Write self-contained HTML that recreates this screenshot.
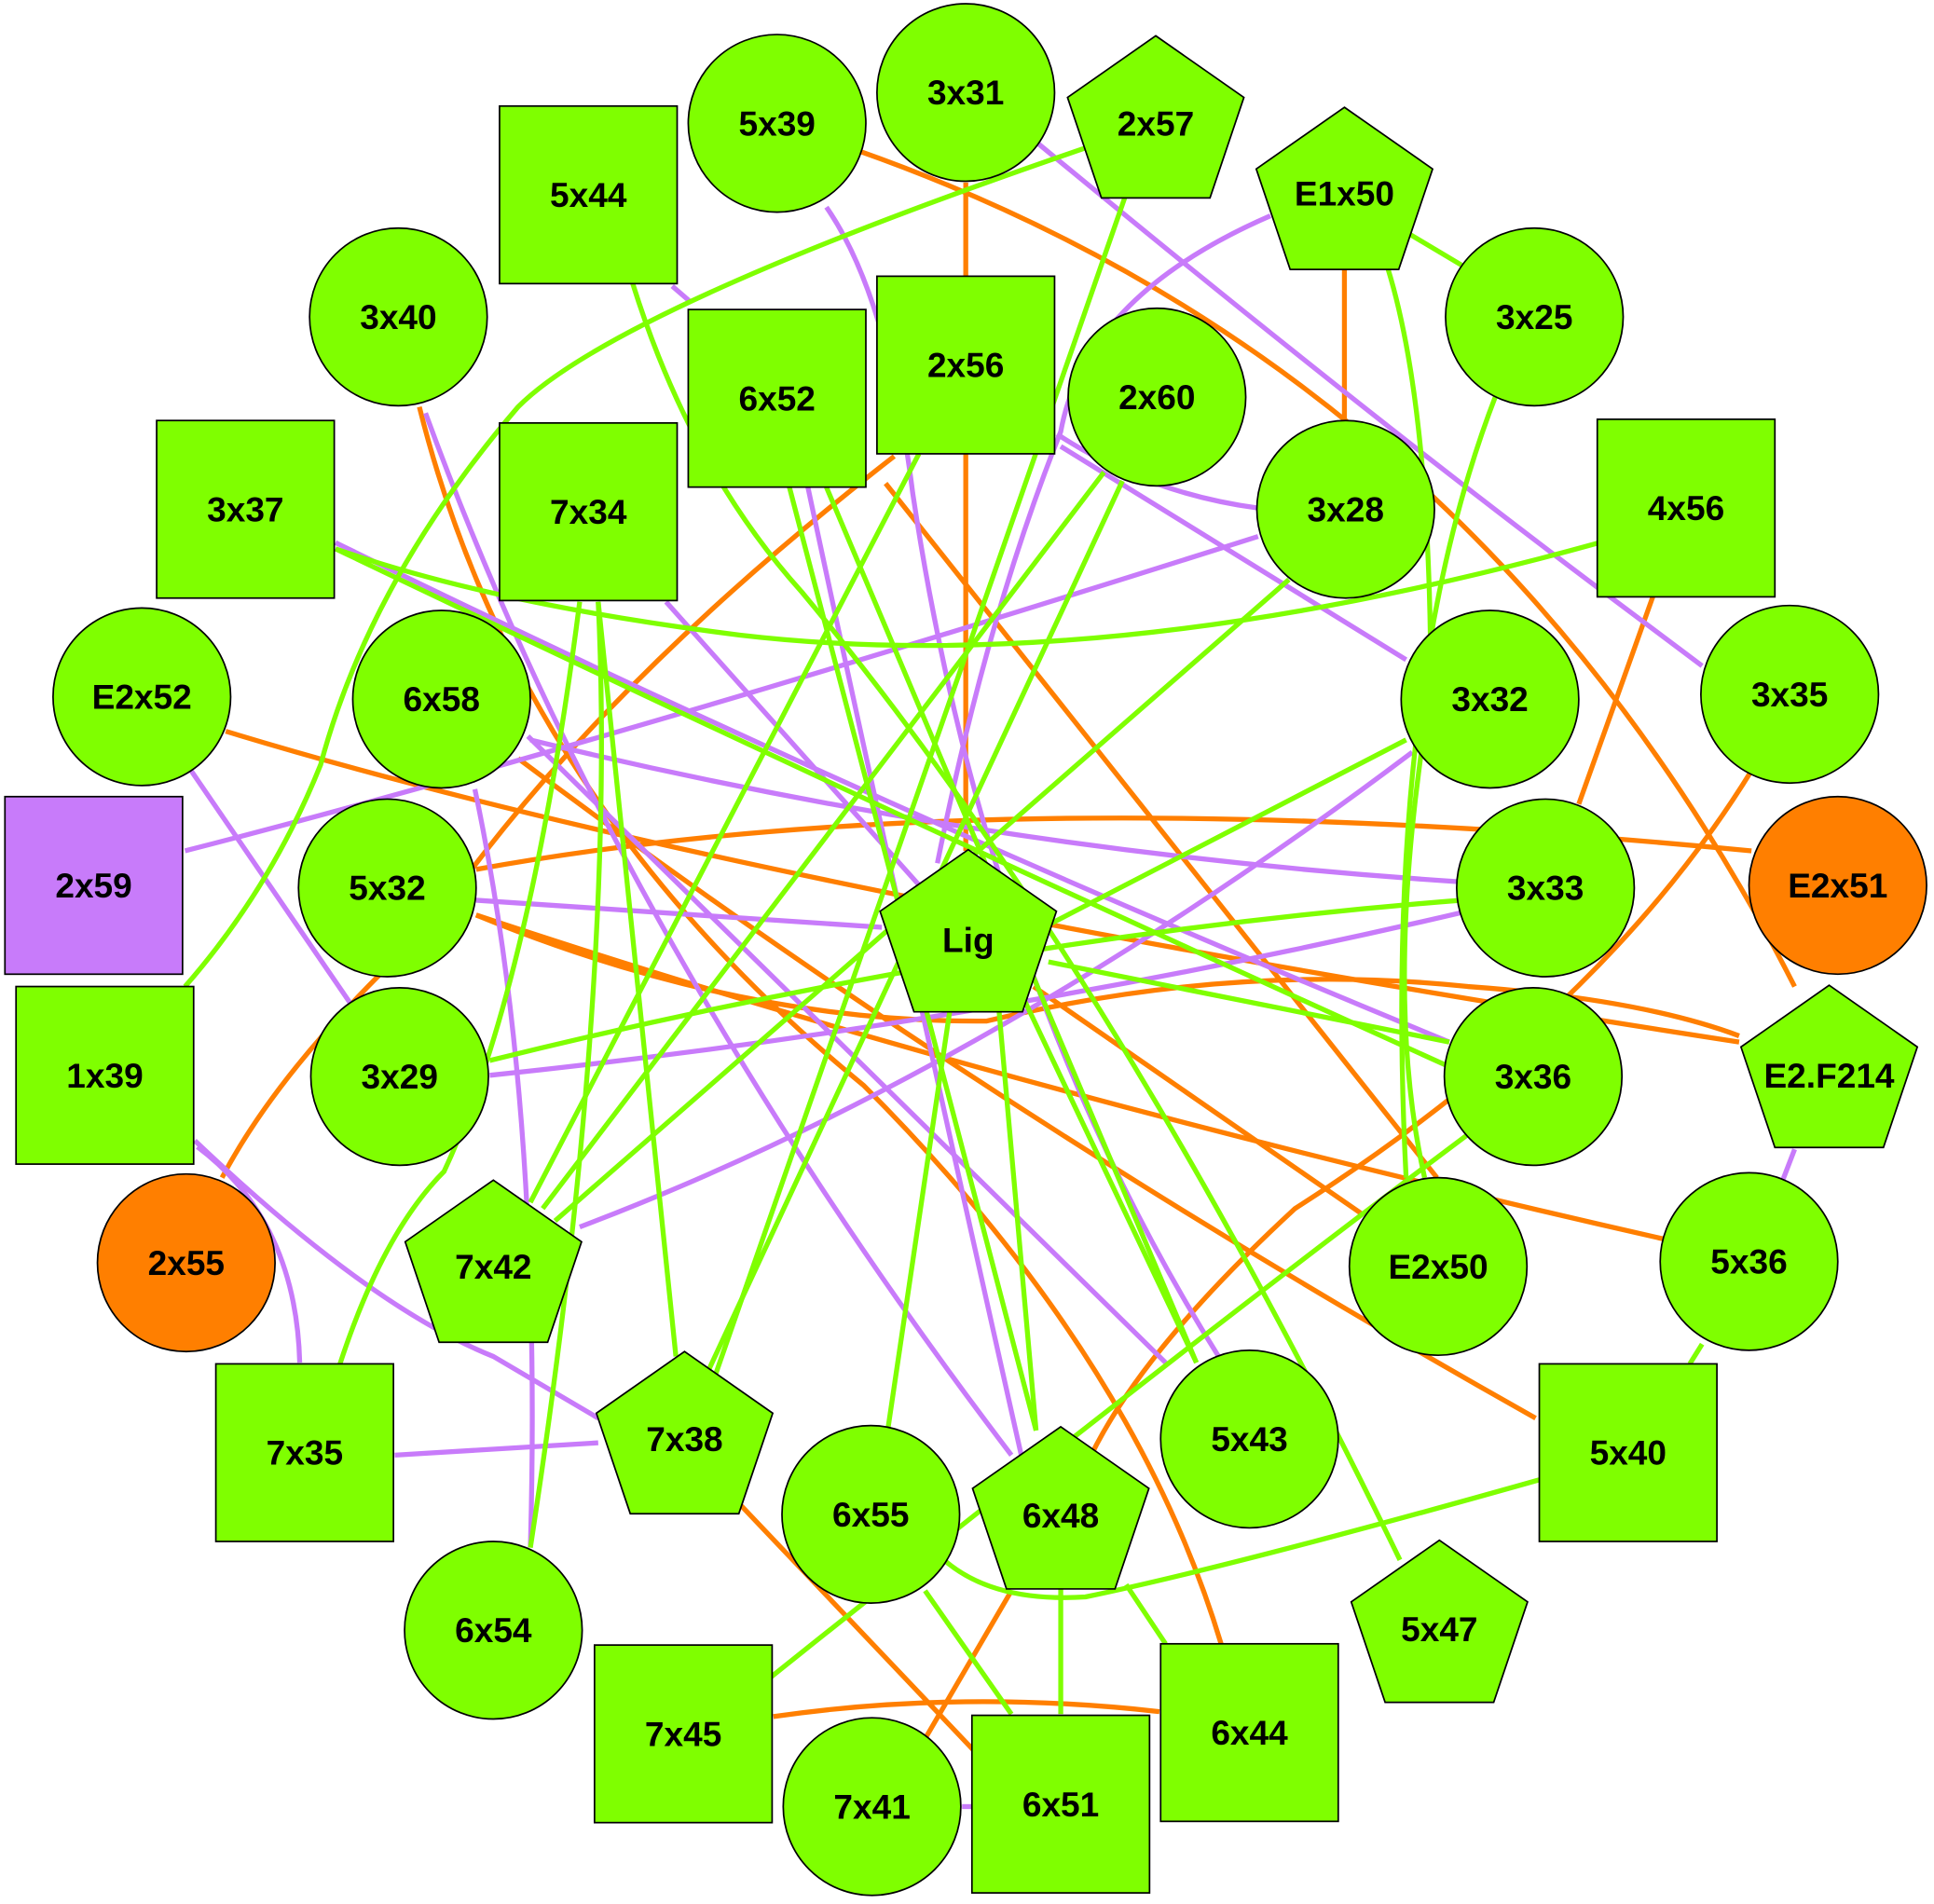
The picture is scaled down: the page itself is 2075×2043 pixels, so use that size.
<!DOCTYPE html>
<html><head><meta charset="utf-8"><style>html,body{margin:0;padding:0;background:#fff}svg{display:block}</style></head>
<body>
<svg width="2075" height="2043" viewBox="0 0 1568 1544" preserveAspectRatio="none" xmlns="http://www.w3.org/2000/svg">
<g fill="none" stroke-width="4">
<g stroke="#ff7f00">
<path d="M783,148 L783,224"/><path d="M783,368 L783,690"/>
<path d="M695,122 Q1200,300 1455,800"/>
<path d="M1090,217 L1090,342"/>
<path d="M340,330 Q420,650 700,880 Q920,1100 990,1333"/>
<path d="M1340,484 L1280,652"/>
<path d="M1420,625 Q1300,820 1050,980 Q920,1100 880,1190"/>
<path d="M183,593 Q600,720 1410,845"/>
<path d="M386,705 Q800,630 1420,690"/>
<path d="M386,742 Q600,830 800,828 Q1000,780 1190,800 Q1330,810 1410,840"/>
<path d="M386,742 Q800,880 1350,1005"/>
<path d="M420,615 Q800,900 1245,1150"/>
<path d="M725,370 Q480,560 350,750 Q230,860 180,955"/>
<path d="M718,392 L1165,955"/>
<path d="M838,800 L1105,985"/>
<path d="M600,1220 L790,1420"/>
<path d="M820,1290 L750,1410"/>
<path d="M627,1392 Q780,1370 940,1388"/>
</g>
<g stroke="#c87bfa">
<path d="M840,115 Q1100,330 1300,480 L1380,540"/>
<path d="M670,168 Q720,240 740,400 Q800,800 988,1100"/>
<path d="M1030,175 Q880,240 860,350 Q800,500 760,700"/>
<path d="M1020,435 Q500,600 150,690"/>
<path d="M857,352 Q930,400 1020,412"/>
<path d="M860,362 L1140,535"/>
<path d="M545,232 L560,245"/>
<path d="M272,440 Q700,650 1175,845"/>
<path d="M540,488 L765,740"/>
<path d="M655,395 Q720,700 828,1180"/>
<path d="M428,597 L945,1105"/>
<path d="M385,640 Q440,900 430,1255"/>
<path d="M155,625 L285,815"/>
<path d="M386,730 L715,752"/>
<path d="M430,600 Q800,690 1183,715"/>
<path d="M397,872 Q800,830 1185,740"/>
<path d="M1145,610 Q800,870 470,995"/>
<path d="M345,335 Q500,760 820,1180"/>
<path d="M158,925 Q300,1060 400,1100 L485,1150"/>
<path d="M160,930 Q240,990 243,1105"/>
<path d="M320,1180 L485,1170"/>
<path d="M780,1465 L790,1465"/>
<path d="M1455,932 L1445,958"/>
</g>
<g stroke="#7fff00">
<path d="M880,120 Q500,250 420,330 Q300,470 260,620 Q220,720 150,800"/>
<path d="M912,160 L580,1115"/>
<path d="M513,230 Q560,380 650,480 Q900,780 1135,1265"/>
<path d="M1143,190 L1185,215"/>
<path d="M1125,217 Q1160,330 1160,560 Q1120,800 1155,955"/>
<path d="M1213,320 Q1120,560 1140,955"/>
<path d="M745,368 L430,975"/>
<path d="M895,383 L440,980"/>
<path d="M910,390 L575,1110"/>
<path d="M1045,470 L450,990"/>
<path d="M1297,440 Q900,550 600,515 Q400,490 272,445"/>
<path d="M1140,600 L850,750"/>
<path d="M1185,730 Q800,760 397,860"/>
<path d="M1190,920 Q950,1100 625,1360"/>
<path d="M640,395 L840,1160"/>
<path d="M670,395 L970,1105"/>
<path d="M485,488 L548,1100"/>
<path d="M485,488 Q500,800 430,1255"/>
<path d="M470,488 Q430,800 360,950 Q310,1000 275,1108"/>
<path d="M272,445 Q700,650 1175,865"/>
<path d="M810,820 L840,1160"/>
<path d="M770,820 L720,1158"/>
<path d="M830,810 L970,1105"/>
<path d="M850,780 L1175,845"/>
<path d="M1248,1200 Q1000,1270 880,1295 Q800,1300 760,1260"/>
<path d="M1380,1090 L1370,1106"/>
<path d="M750,1290 L820,1390"/>
<path d="M860,1288 L860,1390"/>
<path d="M913,1285 L945,1333"/>
</g>
</g>
<g stroke="#000" stroke-width="1.3" fill="#7fff00">
<circle cx="630" cy="100" r="72"/><circle cx="783" cy="75" r="72"/><circle cx="323" cy="257" r="72"/><circle cx="1244" cy="257" r="72"/>
<circle cx="938" cy="322" r="72"/><circle cx="1091" cy="413" r="72"/><circle cx="115" cy="565" r="72"/><circle cx="358" cy="567" r="72"/>
<circle cx="1208" cy="567" r="72"/><circle cx="1451" cy="563" r="72"/><circle cx="1490" cy="718" r="72" fill="#ff7f00"/>
<circle cx="314" cy="720" r="72"/><circle cx="1253" cy="720" r="72"/><circle cx="324" cy="873" r="72"/><circle cx="1243" cy="873" r="72"/>
<circle cx="151" cy="1024" r="72" fill="#ff7f00"/><circle cx="1166" cy="1027" r="72"/><circle cx="1418" cy="1023" r="72"/>
<circle cx="1013" cy="1167" r="72"/><circle cx="706" cy="1228" r="72"/><circle cx="400" cy="1322" r="72"/><circle cx="707" cy="1465" r="72"/>
<rect x="405" y="86" width="144" height="144"/><rect x="558" y="251" width="144" height="144"/><rect x="711" y="224" width="144" height="144"/>
<rect x="127" y="341" width="144" height="144"/><rect x="405" y="343" width="144" height="144"/><rect x="1295" y="340" width="144" height="144"/>
<rect x="4" y="646" width="144" height="144" fill="#c87bfa"/><rect x="13" y="800" width="144" height="144"/>
<rect x="175" y="1106" width="144" height="144"/><rect x="1248" y="1106" width="144" height="144"/><rect x="482" y="1334" width="144" height="144"/>
<rect x="941" y="1333" width="144" height="144"/><rect x="788" y="1391" width="144" height="144"/>
</g>
<g stroke="#000" stroke-width="1.3" fill="#7fff00">
<polygon id="p" points="0,-73 71.5,-23 44,58.5 -44,58.5 -71.5,-23" transform="translate(937,102)"/>
<use href="#p" transform="translate(153,58)"/>
<use href="#p" transform="translate(-152,660)"/>
<use href="#p" transform="translate(546,770)"/>
<use href="#p" transform="translate(-537,928)"/>
<use href="#p" transform="translate(-382,1067)"/>
<use href="#p" transform="translate(-77,1128)"/>
<use href="#p" transform="translate(230,1220)"/>
</g>
<g font-family="Liberation Sans, sans-serif" font-weight="bold" font-size="28" text-anchor="middle" dominant-baseline="central" fill="#000">
<text x="630" y="100">5x39</text><text x="783" y="75">3x31</text><text x="323" y="257">3x40</text><text x="1244" y="257">3x25</text>
<text x="938" y="322">2x60</text><text x="1091" y="413">3x28</text><text x="115" y="565">E2x52</text><text x="358" y="567">6x58</text>
<text x="1208" y="567">3x32</text><text x="1451" y="563">3x35</text><text x="1490" y="718">E2x51</text><text x="314" y="720">5x32</text>
<text x="1253" y="720">3x33</text><text x="324" y="873">3x29</text><text x="1243" y="873">3x36</text><text x="151" y="1024">2x55</text>
<text x="1166" y="1027">E2x50</text><text x="1418" y="1023">5x36</text><text x="1013" y="1167">5x43</text><text x="706" y="1228">6x55</text>
<text x="400" y="1322">6x54</text><text x="707" y="1465">7x41</text>
<text x="477" y="158">5x44</text><text x="630" y="323">6x52</text><text x="783" y="296">2x56</text><text x="199" y="413">3x37</text>
<text x="477" y="415">7x34</text><text x="1367" y="412">4x56</text><text x="76" y="718">2x59</text><text x="85" y="872">1x39</text>
<text x="247" y="1178">7x35</text><text x="1320" y="1178">5x40</text><text x="554" y="1406">7x45</text><text x="1013" y="1405">6x44</text><text x="860" y="1463">6x51</text>
<text x="937" y="100">2x57</text><text x="1090" y="157">E1x50</text><text x="785" y="762">Lig</text><text x="1483" y="872">E2.F214</text>
<text x="400" y="1027">7x42</text><text x="555" y="1167">7x38</text><text x="860" y="1229">6x48</text><text x="1167" y="1321">5x47</text>
</g>
</svg>
</body></html>
